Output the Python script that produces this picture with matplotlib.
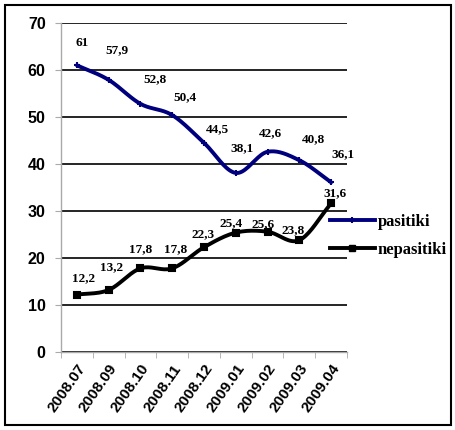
import numpy as np
import matplotlib
matplotlib.use("Agg")
import matplotlib.pyplot as plt
from matplotlib.patches import Rectangle
from matplotlib.lines import Line2D

# --- Data --------------------------------------------------------------------
months = ["2008.07", "2008.09", "2008.10", "2008.11", "2008.12",
          "2009.01", "2009.02", "2009.03", "2009.04"]
pasitiki = [61, 57.9, 52.8, 50.4, 44.5, 38.1, 42.6, 40.8, 36.1]
nepasitiki = [12.2, 13.2, 17.8, 17.8, 22.3, 25.4, 25.6, 23.8, 31.6]

# label offsets in pixels (dx, dy) relative to each point
off_pas = [(5, 22), (8, 30), (15, 25), (13, 18), (13, 14),
           (6, 25), (3, 19), (14, 21), (12, 28)]
off_nep = [(7, 17), (3, 23), (0, 19), (3, 19), (-1, 13),
           (-5, 9), (-4, 8), (-6, 10), (4, 10)]

BLUE = "#00007f"
SERIF = "Liberation Serif"
SANS = "Liberation Sans"


def smooth(y, n=20):
    """Catmull-Rom curve through the points (like Excel's smoothed line)."""
    y = np.asarray(y, dtype=float)
    x = np.arange(len(y), dtype=float)
    px = np.concatenate([[2 * x[0] - x[1]], x, [2 * x[-1] - x[-2]]])
    py = np.concatenate([[2 * y[0] - y[1]], y, [2 * y[-1] - y[-2]]])
    xs, ys = [], []
    t = np.linspace(0, 1, n, endpoint=False)
    for i in range(1, len(px) - 2):
        for arr, out in ((px, xs), (py, ys)):
            p0, p1, p2, p3 = arr[i - 1], arr[i], arr[i + 1], arr[i + 2]
            out.extend(0.5 * ((2 * p1) + (-p0 + p2) * t
                              + (2 * p0 - 5 * p1 + 4 * p2 - p3) * t ** 2
                              + (-p0 + 3 * p1 - 3 * p2 + p3) * t ** 3))
    xs.append(x[-1])
    ys.append(y[-1])
    return np.array(xs), np.array(ys)


fig = plt.figure(figsize=(4.56, 4.30), dpi=100)
ax = fig.add_axes([61 / 456, 1 - 352 / 430, (347 - 61) / 456, (352 - 23) / 430])

x = np.arange(len(months))

for vals, color, marker in ((pasitiki, BLUE, "+"), (nepasitiki, "black", "s")):
    sx, sy = smooth(vals)
    ax.plot(sx, sy, color=color, lw=2.8, solid_capstyle="round", zorder=3)
    ax.plot(x, vals, ls="none", marker=marker, ms=4.5, mew=1.5,
            color=color, zorder=4)

for vals, offs in ((pasitiki, off_pas), (nepasitiki, off_nep)):
    for xi, v, (dx, dy) in zip(x, vals, offs):
        ax.annotate(f"{v:g}".replace(".", ","), (xi, v), xytext=(dx, dy),
                    textcoords="offset pixels", ha="center", va="center",
                    fontsize=9.5, fontweight="bold", family=SERIF, zorder=5)

ax.set_xlim(-0.5, len(months) - 0.5)
ax.set_ylim(0, 70)
ax.set_yticks(range(0, 71, 10))
ax.yaxis.grid(True, color="black", lw=1.2)
ax.set_axisbelow(True)
ax.tick_params(axis="y", length=4, color="#aaaaaa", pad=7)
for lab in ax.get_yticklabels():
    lab.set_fontweight("bold")
    lab.set_family(SANS)
    lab.set_fontsize(11.5)

ax.set_xticks(x)
ax.set_xticklabels(months, rotation=55, ha="right", va="top",
                   rotation_mode="anchor",
                   fontsize=11, fontweight="bold", family=SANS)
ax.set_xticks(np.arange(-0.5, len(months)), minor=True)
ax.tick_params(axis="x", which="major", length=0, pad=7)
ax.tick_params(axis="x", which="minor", length=4, color="#aaaaaa")

for side in ("top", "right"):
    ax.spines[side].set_visible(False)
for side in ("left", "bottom"):
    ax.spines[side].set_color("#aaaaaa")
    ax.spines[side].set_linewidth(1.0)

# legend
handles = [Line2D([], [], color=BLUE, lw=2.8, marker="+", ms=4.5, mew=1.5),
           Line2D([], [], color="black", lw=2.8, marker="s", ms=4.5)]
fig.legend(handles, ["pasitiki", "nepasitiki"], loc="center left",
           bbox_to_anchor=(315 / 456, 1 - 236 / 430), frameon=False,
           handlelength=2.7, handletextpad=0.15, labelspacing=0.75,
           prop={"family": SERIF, "weight": "bold", "size": 12})

# outer border
fig.patches.append(Rectangle((5 / 456, 5 / 430), 446 / 456, 420 / 430,
                             transform=fig.transFigure, fill=False,
                             edgecolor="black", lw=1.5))

fig.savefig("out.png", dpi=100)
